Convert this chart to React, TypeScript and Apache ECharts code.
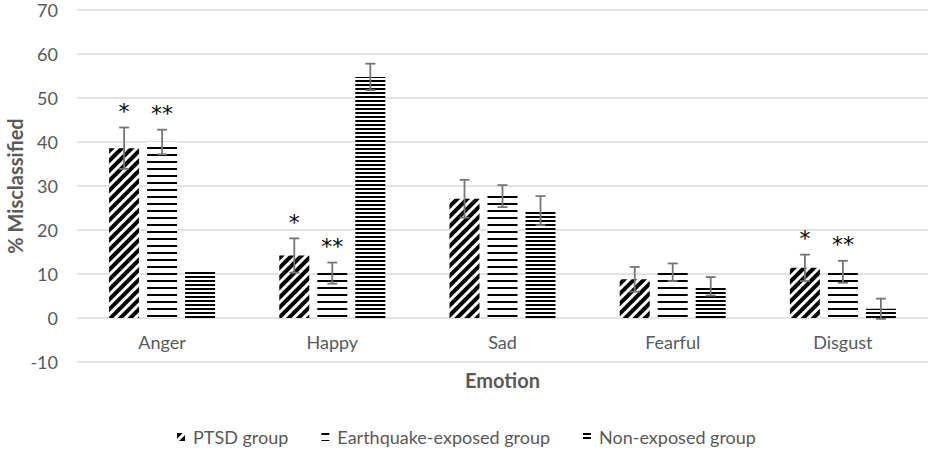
import React, { useEffect, useRef } from "react";
import * as echarts from "echarts";

const categories = ["Anger", "Happy", "Sad", "Fearful", "Disgust"];
const seriesNames = ["PTSD group", "Earthquake-exposed group", "Non-exposed group"];

const ptsdValues = [38.6, 14.2, 27.1, 8.8, 11.4];
const ptsdErrors = [4.7, 3.9, 4.3, 2.8, 3.0];
const ptsdMarks = ["*", "*", "", "", "*"];

const earthquakeValues = [40.0, 10.2, 27.7, 10.4, 10.5];
const earthquakeErrors = [2.8, 2.4, 2.5, 2.0, 2.5];
const earthquakeMarks = ["**", "**", "", "", "**"];

const nonExposedValues = [10.9, 54.8, 24.4, 7.2, 2.1];
const nonExposedErrors = [0, 3.0, 3.3, 2.1, 2.3];
const nonExposedMarks = ["", "", "", "", ""];

const yTicks = { min: -10, max: 70, interval: 10 };

const FONT = "Lato";
const TEXT = "#595959";
const BAR_W = 30;
const BAR_GAP = 8;

const valuesByGroup = [ptsdValues, earthquakeValues, nonExposedValues];
const errorsByGroup = [ptsdErrors, earthquakeErrors, nonExposedErrors];
const marksByGroup = [ptsdMarks, earthquakeMarks, nonExposedMarks];

const decals = [
  {
    symbol: "rect",
    color: "#000",
    dashArrayX: [1, 0],
    dashArrayY: [4, 3],
    rotation: -Math.PI / 4,
    symbolKeepAspect: false,
  },
  {
    symbol: "rect",
    color: "#000",
    dashArrayX: [1, 0],
    dashArrayY: [2, 4.6],
    rotation: 0,
    symbolKeepAspect: false,
  },
  {
    symbol: "rect",
    color: "#000",
    dashArrayX: [1, 0],
    dashArrayY: [1.7, 1.3],
    rotation: 0,
    symbolKeepAspect: false,
  },
];

function makeBarSeries(gi: number) {
  return {
    name: seriesNames[gi],
    type: "bar",
    barWidth: BAR_W,
    barGap: (BAR_GAP / BAR_W) * 100 + "%",
    data: valuesByGroup[gi],
    itemStyle: { color: "#ffffff", decal: decals[gi] },
    z: 2,
  };
}

function makeErrorSeries(gi: number) {
  const offset = (gi - 1) * (BAR_W + BAR_GAP);
  return {
    type: "custom",
    name: "err" + gi,
    z: 10,
    encode: { x: 0, y: 1 },
    data: categories.map((_, i) => [i, valuesByGroup[gi][i], errorsByGroup[gi][i]]),
    renderItem: (params: any, api: any) => {
      const cat = api.value(0);
      const val = api.value(1);
      const err = api.value(2);
      const mark = marksByGroup[gi][params.dataIndex];
      const top = api.coord([cat, val + err]);
      const bot = api.coord([cat, val - err]);
      const x = top[0] + offset;
      const children: any[] = [];
      const ls = { stroke: "#767676", lineWidth: 1.8 };
      if (err > 0) {
        children.push(
          { type: "line", shape: { x1: x, y1: top[1], x2: x, y2: bot[1] }, style: ls },
          { type: "line", shape: { x1: x - 5, y1: top[1], x2: x + 5, y2: top[1] }, style: ls },
          { type: "line", shape: { x1: x - 5, y1: bot[1], x2: x + 5, y2: bot[1] }, style: ls }
        );
      }
      if (mark) {
        children.push({
          type: "text",
          x,
          y: top[1] - 16,
          style: {
            text: mark,
            fontSize: 22,
            fontFamily: "DejaVu Sans",
            fill: "#000",
            align: "center",
            verticalAlign: "middle",
          },
        });
      }
      return { type: "group", children };
    },
  };
}

export default function App() {
  const ref = useRef<HTMLDivElement>(null);
  useEffect(() => {
    if (!ref.current) return;
    const chart = echarts.init(ref.current, null, { renderer: "svg" });
    chart.setOption({
      animation: false,
      backgroundColor: "#ffffff",
      grid: { left: 77, right: 5, top: 10, bottom: 90, containLabel: false, outerBoundsMode: "none" },
      legend: {
        data: seriesNames,
        left: "center",
        top: 423,
        icon: "rect",
        itemWidth: 8,
        itemHeight: 8,
        itemGap: 33,
        textStyle: { fontFamily: FONT, fontSize: 18, color: TEXT, padding: [0, 0, 0, 3] },
      },
      xAxis: {
        type: "category",
        data: categories,
        name: "Emotion",
        nameLocation: "middle",
        nameGap: 52,
        nameMoveOverlap: false,
        offset: -44,
        nameTextStyle: { fontFamily: FONT, fontSize: 20, fontWeight: "bold", color: TEXT },
        axisLine: { show: false, onZero: false },
        axisTick: { show: false },
        axisLabel: { fontFamily: FONT, fontSize: 18, color: TEXT, margin: 15 },
      },
      yAxis: {
        type: "value",
        min: yTicks.min,
        max: yTicks.max,
        interval: yTicks.interval,
        name: "% Misclassified",
        nameLocation: "middle",
        nameGap: 52,
        nameMoveOverlap: false,
        nameTextStyle: { fontFamily: FONT, fontSize: 20, fontWeight: "bold", color: TEXT },
        axisLine: { show: false },
        axisTick: { show: false },
        axisLabel: { fontFamily: FONT, fontSize: 18, color: TEXT, margin: 19 },
        splitLine: { lineStyle: { color: "#d9d9d9", width: 1.5 } },
      },
      series: [
        makeBarSeries(0),
        makeBarSeries(1),
        makeBarSeries(2),
        makeErrorSeries(0),
        makeErrorSeries(1),
        makeErrorSeries(2),
      ],
    });
    return () => chart.dispose();
  }, []);
  return (
    <div
      ref={ref}
      style={{ position: "fixed", left: 0, top: 0, width: 933, height: 452, background: "#fff" }}
    />
  );
}
